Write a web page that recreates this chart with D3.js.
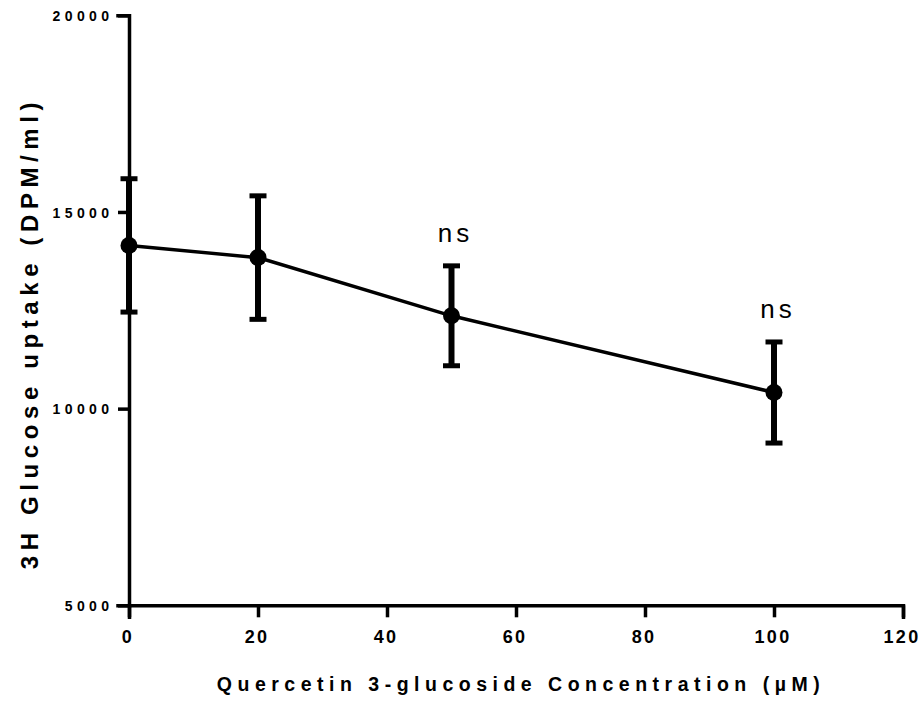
<!DOCTYPE html>
<html>
<head>
<meta charset="utf-8">
<script src="https://cdn.jsdelivr.net/npm/d3@7"></script>
<style>
  html, body { margin: 0; padding: 0; background: #fff; }
  svg { display: block; }
</style>
</head>
<body>
<svg id="chart" width="920" height="704"></svg>
<script>
// Quercetin 3-glucoside concentrations (µM) and 3H glucose uptake (DPM/ml)
const concentrations = [0, 20, 50, 100];
const uptakeMean = [14150, 13840, 12360, 10410];
const uptakeErr = [1695, 1570, 1270, 1285];
const significance = ["", "", "ns", "ns"];
const xTicks = [0, 20, 40, 60, 80, 100, 120];
const yTicks = [5000, 10000, 15000, 20000];

const svg = d3.select("#chart");
const x = d3.scaleLinear().domain([0, 120]).range([129, 903]);
const y = d3.scaleLinear().domain([5000, 20000]).range([605.3, 15.3]);

const data = concentrations.map((c, i) => ({
  c, m: uptakeMean[i], e: uptakeErr[i], s: significance[i]
}));

// Axes
const yAxis = d3.axisLeft(y).tickValues(yTicks).tickSizeOuter(0).tickSize(11)
  .tickFormat(d3.format("d"));
const xAxis = d3.axisBottom(x).tickValues(xTicks).tickSizeOuter(0).tickSize(12)
  .tickFormat(d3.format("d"));

const gy = svg.append("g").attr("transform", "translate(129,0)").call(yAxis);
const gx = svg.append("g").attr("transform", "translate(0,605.3)").call(xAxis);

[gx, gy].forEach(g => {
  g.select(".domain").attr("stroke", "#000").attr("stroke-width", 3.5).attr("stroke-linecap", "square");
  g.selectAll(".tick line").attr("stroke", "#000").attr("stroke-width", 3.5);
});

gy.selectAll(".tick text")
  .attr("fill", "#000")
  .attr("font-family", "'Liberation Sans', Arial, sans-serif")
  .attr("font-weight", "bold")
  .attr("font-size", "14px")
  .attr("letter-spacing", "4.4px")
  .attr("x", -15.5)
  .attr("dy", "0.38em");

gx.selectAll(".tick text")
  .attr("fill", "#000")
  .attr("font-family", "'Liberation Sans', Arial, sans-serif")
  .attr("font-weight", "bold")
  .attr("font-size", "18px")
  .attr("letter-spacing", "2.3px")
  .attr("dx", "-1.5px")
  .attr("y", 37.5)
  .attr("dy", "0");

// Mean line
svg.append("path")
  .datum(data)
  .attr("fill", "none")
  .attr("stroke", "#000")
  .attr("stroke-width", 3.5)
  .attr("d", d3.line().x(d => x(d.c)).y(d => y(d.m)));

// Error bars
const eb = svg.append("g").selectAll("g").data(data).join("g");
eb.append("line")
  .attr("x1", d => x(d.c)).attr("x2", d => x(d.c))
  .attr("y1", d => y(d.m + d.e)).attr("y2", d => y(d.m - d.e))
  .attr("stroke", "#000").attr("stroke-width", 6);
["top", "bottom"].forEach(side => {
  eb.append("line")
    .attr("x1", d => x(d.c) - 8.5).attr("x2", d => x(d.c) + 8.5)
    .attr("y1", d => y(side === "top" ? d.m + d.e : d.m - d.e))
    .attr("y2", d => y(side === "top" ? d.m + d.e : d.m - d.e))
    .attr("stroke", "#000").attr("stroke-width", 5);
});

// Markers
svg.append("g").selectAll("circle").data(data).join("circle")
  .attr("cx", d => x(d.c)).attr("cy", d => y(d.m))
  .attr("r", 8.5).attr("fill", "#000");

// Significance labels
svg.append("g").selectAll("text").data(data.filter(d => d.s)).join("text")
  .attr("x", d => x(d.c) + 4)
  .attr("y", d => y(d.m + d.e) - 24)
  .attr("text-anchor", "middle")
  .attr("font-family", "'Liberation Sans', Arial, sans-serif")
  .attr("font-size", "26px")
  .attr("letter-spacing", "4px")
  .attr("fill", "#000")
  .text(d => d.s);

// Axis titles
svg.append("text")
  .attr("x", 521).attr("y", 691)
  .attr("text-anchor", "middle")
  .attr("font-family", "'Liberation Sans', Arial, sans-serif")
  .attr("font-weight", "bold")
  .attr("font-size", "19.5px")
  .attr("letter-spacing", "5.5px")
  .attr("fill", "#000")
  .text("Quercetin 3-glucoside Concentration (µM)");

svg.append("text")
  .attr("transform", "translate(38,333) rotate(-90)")
  .attr("text-anchor", "middle")
  .attr("font-family", "'Liberation Sans', Arial, sans-serif")
  .attr("font-weight", "bold")
  .attr("font-size", "24px")
  .attr("letter-spacing", "5.6px")
  .attr("fill", "#000")
  .text("3H Glucose uptake (DPM/ml)");
</script>
</body>
</html>
